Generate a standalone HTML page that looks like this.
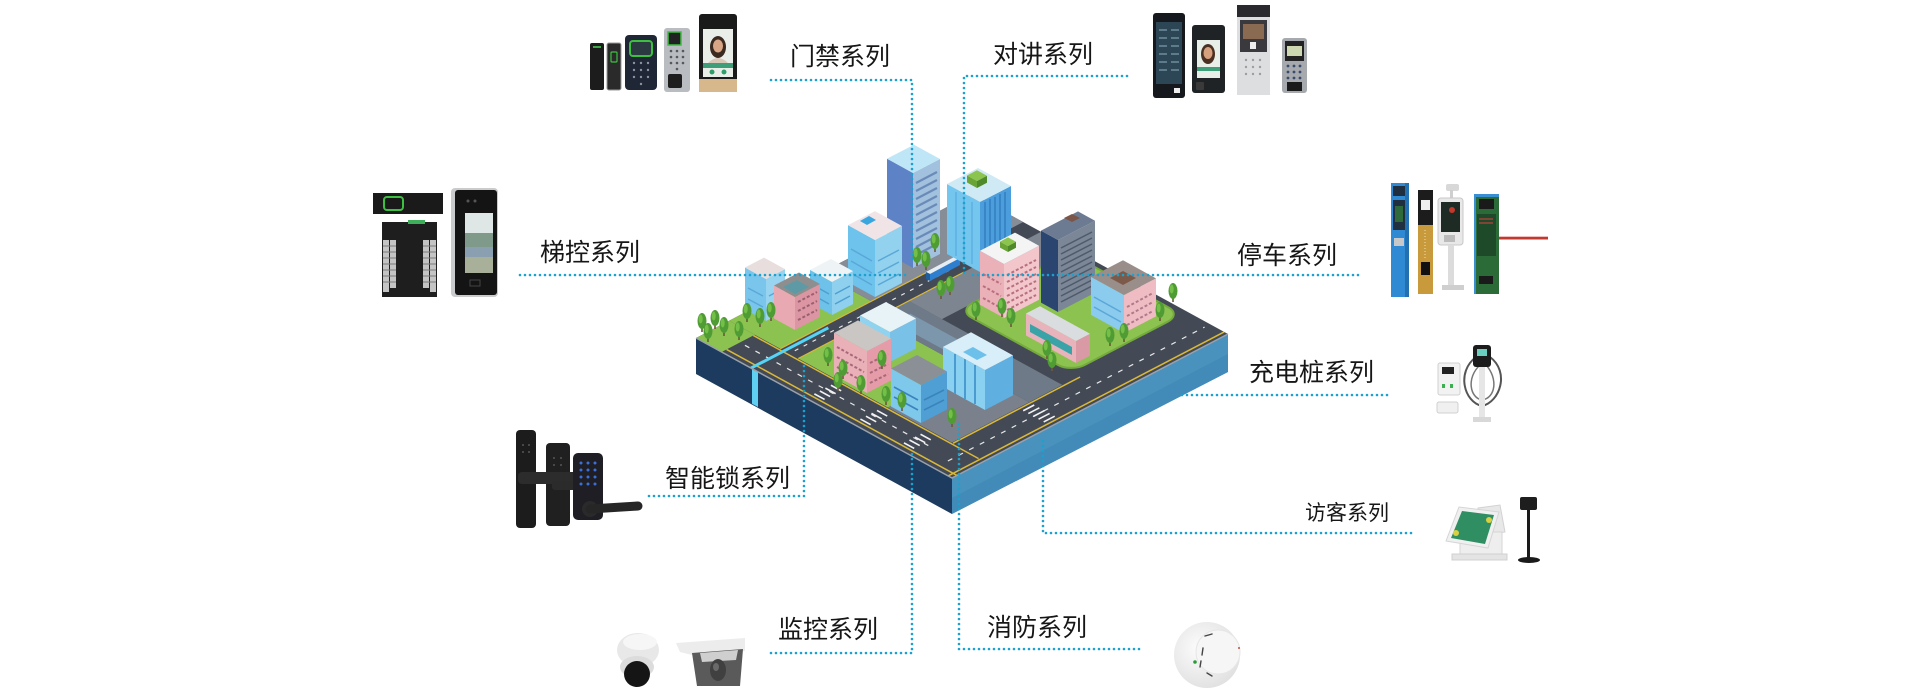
<!DOCTYPE html>
<html><head><meta charset="utf-8"><style>
html,body{margin:0;padding:0;background:#fff;overflow:hidden}
svg{display:block}
.lb{font-family:"Liberation Sans","Noto Sans CJK SC",sans-serif;font-size:25px;fill:#161616}
.dl{fill:none;stroke:#1aa2cf;stroke-width:2.6;stroke-linecap:round;stroke-dasharray:0 5}
</style></head><body>
<svg width="1920" height="698" viewBox="0 0 1920 698" xmlns="http://www.w3.org/2000/svg">
<defs>
<symbol id="t" overflow="visible"><rect x="-0.8" y="4" width="1.6" height="5" fill="#6b5a3a"/><ellipse cx="0" cy="-2" rx="4.5" ry="8" fill="#4f9c34"/><ellipse cx="-1.3" cy="-4" rx="2" ry="4.5" fill="#74bf48"/></symbol>
<radialGradient id="sm" cx="0.4" cy="0.4" r="0.7"><stop offset="0" stop-color="#fdfdfd"/><stop offset="1" stop-color="#dedede"/></radialGradient>
</defs>
<rect width="1920" height="698" fill="#fff"/>

<!-- ===== CITY PLATFORM ===== -->
<polygon points="696,338 952,478 952,514 696,374" fill="#1d3b5e"/>
<polygon points="952,478 1228,334 1228,372 952,514" fill="#4892bd"/>
<polygon points="952,498 1228,354 1228,372 952,514" fill="#3f86b2" opacity="0.6"/>
<polygon points="752,368.5 758,371.8 758,407 752,403.7" fill="#5fd0f2"/>
<polygon points="696,338 972,194 1228,334 952,478" fill="#444a55"/>

<g transform="matrix(256,140,276,-144,696,338)">
 <rect x="0" y="0.12" width="0.2" height="0.33" fill="#8cc24f"/>
 <rect x="0" y="0" width="0.1" height="0.12" fill="#8cc24f"/>
 <rect x="0" y="0.45" width="0.2" height="0.55" fill="#868d97"/>
 <rect x="0.27" y="0.12" width="0.35" height="0.28" fill="#8cc24f"/>
 <rect x="0.62" y="0.12" width="0.25" height="0.28" fill="#7a818c"/>
 <rect x="0.27" y="0.40" width="0.60" height="0.12" fill="#6f7a88"/>
 <rect x="0.32" y="0.42" width="0.40" height="0.06" fill="#86aac4" opacity="0.6"/>
 <rect x="0.27" y="0.52" width="0.13" height="0.48" fill="#7d8591"/>
 <rect x="0.40" y="0.58" width="0.44" height="0.40" rx="0.05" fill="#8cc24f" stroke="#74ab3c" stroke-width="2" vector-effect="non-scaling-stroke"/>
 <line x1="0.1" y1="0.018" x2="1" y2="0.018" stroke="#d9b83a" stroke-width="1.5" vector-effect="non-scaling-stroke"/>
 <line x1="0.1" y1="0.115" x2="0.98" y2="0.115" stroke="#d9b83a" stroke-width="1.5" vector-effect="non-scaling-stroke"/>
 <line x1="0.12" y1="0.066" x2="0.86" y2="0.066" stroke="#e8e8e8" stroke-width="1.2" stroke-dasharray="5 7" vector-effect="non-scaling-stroke"/>
 <line x1="0.875" y1="0.12" x2="0.875" y2="0.58" stroke="#d9b83a" stroke-width="1.5" vector-effect="non-scaling-stroke"/>
 <line x1="0.985" y1="0" x2="0.985" y2="1" stroke="#d9b83a" stroke-width="1.5" vector-effect="non-scaling-stroke"/>
 <line x1="0.93" y1="0.05" x2="0.93" y2="0.98" stroke="#e8e8e8" stroke-width="1.2" stroke-dasharray="5 7" vector-effect="non-scaling-stroke"/>
 <line x1="0.235" y1="0.14" x2="0.235" y2="0.7" stroke="#e8e8e8" stroke-width="1.2" stroke-dasharray="4 6" vector-effect="non-scaling-stroke"/>
 <line x1="0.2" y1="0.12" x2="0.2" y2="0.72" stroke="#d9b83a" stroke-width="1.2" vector-effect="non-scaling-stroke"/>
 <line x1="0.27" y1="0.12" x2="0.27" y2="0.72" stroke="#d9b83a" stroke-width="1.2" vector-effect="non-scaling-stroke"/>
 <line x1="0.215" y1="0" x2="0.215" y2="0.28" stroke="#55d4f5" stroke-width="3" vector-effect="non-scaling-stroke"/>
 <polyline points="0,0 1,0 1,1" fill="none" stroke="#9aa1aa" stroke-width="1.5" vector-effect="non-scaling-stroke"/>
 <g stroke="#f2f2f2" stroke-width="1.6">
  <line x1="0.43" y1="0.03" x2="0.47" y2="0.03" vector-effect="non-scaling-stroke"/><line x1="0.43" y1="0.05" x2="0.47" y2="0.05" vector-effect="non-scaling-stroke"/><line x1="0.43" y1="0.07" x2="0.47" y2="0.07" vector-effect="non-scaling-stroke"/><line x1="0.43" y1="0.09" x2="0.47" y2="0.09" vector-effect="non-scaling-stroke"/>
  <line x1="0.61" y1="0.03" x2="0.65" y2="0.03" vector-effect="non-scaling-stroke"/><line x1="0.61" y1="0.05" x2="0.65" y2="0.05" vector-effect="non-scaling-stroke"/><line x1="0.61" y1="0.07" x2="0.65" y2="0.07" vector-effect="non-scaling-stroke"/><line x1="0.61" y1="0.09" x2="0.65" y2="0.09" vector-effect="non-scaling-stroke"/>
  <line x1="0.78" y1="0.03" x2="0.82" y2="0.03" vector-effect="non-scaling-stroke"/><line x1="0.78" y1="0.05" x2="0.82" y2="0.05" vector-effect="non-scaling-stroke"/><line x1="0.78" y1="0.07" x2="0.82" y2="0.07" vector-effect="non-scaling-stroke"/><line x1="0.78" y1="0.09" x2="0.82" y2="0.09" vector-effect="non-scaling-stroke"/>
  <line x1="0.89" y1="0.36" x2="0.89" y2="0.40" vector-effect="non-scaling-stroke"/><line x1="0.91" y1="0.36" x2="0.91" y2="0.40" vector-effect="non-scaling-stroke"/><line x1="0.93" y1="0.36" x2="0.93" y2="0.40" vector-effect="non-scaling-stroke"/><line x1="0.95" y1="0.36" x2="0.95" y2="0.40" vector-effect="non-scaling-stroke"/><line x1="0.97" y1="0.36" x2="0.97" y2="0.40" vector-effect="non-scaling-stroke"/>
 </g>
</g>

<!-- bus -->
<polygon points="930,281 960,265 960,258 930,274" fill="#2f7fd0"/>
<polygon points="930,274 960,258 956,256 926,272" fill="#e6eef5"/>
<polygon points="926,272 930,274 930,281 926,279" fill="#1f5f9f"/>

<!-- ===== BUILDINGS ===== -->
<g transform="translate(913,268)">
 <polygon points="0,0 -26,-14.3 -26,-109.3 0,-95" fill="#5d83c6"/>
 <polygon points="0,0 27,-14 27,-109 0,-95" fill="#a2c1de"/>
 <g stroke="#6a8bb8" stroke-width="2.2"><line x1="3" y1="-13" x2="24" y2="-24"/><line x1="3" y1="-21" x2="24" y2="-32"/><line x1="3" y1="-29" x2="24" y2="-40"/><line x1="3" y1="-37" x2="24" y2="-48"/><line x1="3" y1="-45" x2="24" y2="-56"/><line x1="3" y1="-53" x2="24" y2="-64"/><line x1="3" y1="-61" x2="24" y2="-72"/><line x1="3" y1="-69" x2="24" y2="-80"/><line x1="3" y1="-77" x2="24" y2="-88"/><line x1="3" y1="-85" x2="24" y2="-96"/></g>
 <polygon points="0,-95 -26,-109.3 1,-123.3 27,-109" fill="#bfe6f7"/>
</g>
<g transform="translate(980,272)">
 <polygon points="0,0 -33,-18 -33,-88 0,-70" fill="#74c6ee"/>
 <polygon points="0,0 31,-16 31,-86 0,-70" fill="#4b9ddb"/>
 <g stroke="#3580c0" stroke-width="1.6"><line x1="5" y1="-6" x2="5" y2="-70"/><line x1="10" y1="-8" x2="10" y2="-73"/><line x1="15" y1="-11" x2="15" y2="-75"/><line x1="20" y1="-13" x2="20" y2="-78"/><line x1="25" y1="-16" x2="25" y2="-80"/></g>
 <g stroke="#5aaee0" stroke-width="1.4"><line x1="-8" y1="-8" x2="-8" y2="-70"/><line x1="-16" y1="-12" x2="-16" y2="-75"/><line x1="-24" y1="-16" x2="-24" y2="-80"/></g>
 <polygon points="0,-70 -33,-88 -2,-104 31,-86" fill="#cfeaf5"/>
 <g transform="translate(-3,-84)"><polygon points="0,0 -10,-5.5 -10,-12.5 0,-7" fill="#6aa336"/><polygon points="0,0 10,-5.2 10,-12.2 0,-7" fill="#4e8a2a"/><polygon points="0,-7 -10,-12.5 0,-17.7 10,-12.2" fill="#8bc44f"/></g>
</g>
<g transform="translate(875,297)">
 <polygon points="0,0 -27,-14.85 -27,-71.85 0,-57" fill="#6ec3ec"/>
 <polygon points="0,0 27,-14 27,-71 0,-57" fill="#93d2ef"/>
 <g stroke="#5aa8d8" stroke-width="1.5"><line x1="-24" y1="-24" x2="-3" y2="-12"/><line x1="-24" y1="-36" x2="-3" y2="-24"/><line x1="-24" y1="-48" x2="-3" y2="-36"/><line x1="3" y1="-12" x2="24" y2="-23"/><line x1="3" y1="-24" x2="24" y2="-35"/><line x1="3" y1="-36" x2="24" y2="-47"/></g>
 <polygon points="0,-57 -27,-71.85 0,-85.9 27,-71" fill="#f0e4e6"/>
 <polygon points="-8,-72 -15,-76 -6,-81 1,-77" fill="#3aa6e0"/>
</g>
<g transform="translate(1058,312)">
 <polygon points="0,0 -17,-9.35 -17,-81.35 0,-72" fill="#2a4670"/>
 <polygon points="0,0 37,-19.24 37,-91.24 0,-72" fill="#7b8797"/>
 <g stroke="#4e5a6a" stroke-width="1.5"><line x1="3" y1="-10" x2="34" y2="-26"/><line x1="3" y1="-16" x2="34" y2="-32"/><line x1="3" y1="-22" x2="34" y2="-38"/><line x1="3" y1="-28" x2="34" y2="-44"/><line x1="3" y1="-34" x2="34" y2="-50"/><line x1="3" y1="-40" x2="34" y2="-56"/><line x1="3" y1="-46" x2="34" y2="-62"/><line x1="3" y1="-52" x2="34" y2="-68"/><line x1="3" y1="-58" x2="34" y2="-74"/><line x1="3" y1="-64" x2="34" y2="-80"/></g>
 <polygon points="0,-72 -17,-81.35 20,-100.6 37,-91.24" fill="#6c7b92"/>
 <polygon points="14,-90 6,-94 14,-98 22,-94" fill="#7a5548"/>
</g>
<g transform="translate(832,315)">
 <polygon points="0,0 -22,-12.1 -22,-45.1 0,-33" fill="#6ec1e9"/>
 <polygon points="0,0 21,-10.9 21,-43.9 0,-33" fill="#8fd0ef"/>
 <g stroke="#4f9fcf" stroke-width="1.4"><line x1="-19" y1="-20" x2="-3" y2="-11"/><line x1="-19" y1="-30" x2="-3" y2="-21"/><line x1="3" y1="-11" x2="18" y2="-19"/><line x1="3" y1="-21" x2="18" y2="-29"/></g>
 <polygon points="0,-33 -22,-45.1 -1,-56 21,-43.9" fill="#eef4f6"/>
</g>
<g transform="translate(1004,318)">
 <polygon points="0,0 -24,-13.2 -24,-67.2 0,-54" fill="#eab1b9"/>
 <polygon points="0,0 35,-18.2 35,-72.2 0,-54" fill="#f2c6cb"/>
 <g stroke="#b8707e" stroke-width="2" stroke-dasharray="3 2"><line x1="3" y1="-8" x2="32" y2="-23"/><line x1="3" y1="-15" x2="32" y2="-30"/><line x1="3" y1="-22" x2="32" y2="-37"/><line x1="3" y1="-29" x2="32" y2="-44"/><line x1="3" y1="-36" x2="32" y2="-51"/><line x1="3" y1="-43" x2="32" y2="-58"/><line x1="-21" y1="-20" x2="-3" y2="-10"/><line x1="-21" y1="-32" x2="-3" y2="-22"/><line x1="-21" y1="-44" x2="-3" y2="-34"/></g>
 <polygon points="0,-54 -24,-67.2 11,-85.4 35,-72.2" fill="#f4f4f4"/>
 <g transform="translate(4,-66)"><polygon points="0,0 -8,-4.4 -8,-10.4 0,-6" fill="#6aa336"/><polygon points="0,0 8,-4.2 8,-10.2 0,-6" fill="#4e8a2a"/><polygon points="0,-6 -8,-10.4 0,-14.6 8,-10.2" fill="#8bc44f"/></g>
</g>
<g transform="translate(766,321)">
 <polygon points="0,0 -21,-11.55 -21,-53.55 0,-42" fill="#79c5ec"/>
 <polygon points="0,0 19,-9.9 19,-51.9 0,-42" fill="#98d3f0"/>
 <g stroke="#5aa8d8" stroke-width="1.4"><line x1="-18" y1="-22" x2="-3" y2="-14"/><line x1="-18" y1="-33" x2="-3" y2="-25"/><line x1="3" y1="-14" x2="16" y2="-21"/><line x1="3" y1="-25" x2="16" y2="-32"/></g>
 <polygon points="0,-42 -21,-53.55 -2,-63.4 19,-51.9" fill="#e9dede"/>
</g>
<g transform="translate(795,330)">
 <polygon points="0,0 -21,-11.55 -21,-44.55 0,-33" fill="#e8a9b2"/>
 <polygon points="0,0 25,-13 25,-46 0,-33" fill="#dc95a2"/>
 <g stroke="#9a6070" stroke-width="2" stroke-dasharray="3 2"><line x1="3" y1="-10" x2="22" y2="-20"/><line x1="3" y1="-19" x2="22" y2="-29"/><line x1="3" y1="-28" x2="22" y2="-38"/></g>
 <polygon points="0,-33 -21,-44.55 4,-57.55 25,-46" fill="#8f8e8e"/>
 <polygon points="0,-36 -12,-43 2,-50 14,-43" fill="#5d9aa6"/>
</g>
<g transform="translate(1124,333)">
 <polygon points="0,0 -33,-18.15 -33,-56.15 0,-38" fill="#8acbee"/>
 <polygon points="0,0 32,-16.6 32,-54.6 0,-38" fill="#efbcc4"/>
 <g stroke="#b07a88" stroke-width="2" stroke-dasharray="3 2"><line x1="3" y1="-8" x2="29" y2="-22"/><line x1="3" y1="-17" x2="29" y2="-31"/><line x1="3" y1="-26" x2="29" y2="-40"/></g>
 <g stroke="#5aa8d8" stroke-width="1.5"><line x1="-30" y1="-26" x2="-3" y2="-11"/><line x1="-30" y1="-36" x2="-3" y2="-21"/></g>
 <polygon points="0,-38 -33,-56.15 -1,-72.8 32,-54.6" fill="#9a8e8a"/>
 <polygon points="-1,-48 -14,-55 -1,-62 12,-55" fill="#7b5a4a"/>
</g>
<g transform="translate(890,362)">
 <polygon points="0,0 -30,-16.5 -30,-46.5 0,-30" fill="#8fd3f0"/>
 <polygon points="0,0 26,-13.5 26,-43.5 0,-30" fill="#79c1e6"/>
 <polygon points="0,-30 -30,-46.5 -4,-60 26,-43.5" fill="#e8f3f7"/>
</g>
<g transform="translate(1076,363)">
 <polygon points="0,0 -50,-27.5 -50,-49.5 0,-22" fill="#e9b3bb"/>
 <polygon points="-46,-31 -4,-8 -4,-16 -46,-39" fill="#3aa3a8"/>
 <polygon points="0,0 14,-7.3 14,-29.3 0,-22" fill="#d99aa5"/>
 <polygon points="0,-22 -50,-49.5 -36,-56.8 14,-29.3" fill="#d9dde0"/>
</g>
<g transform="translate(867,393)">
 <polygon points="0,0 -33,-18.15 -33,-60.15 0,-42" fill="#eab0b8"/>
 <polygon points="0,0 24,-12.5 24,-54.5 0,-42" fill="#e59ca8"/>
 <g stroke="#a86878" stroke-width="2" stroke-dasharray="3 2"><line x1="-30" y1="-26" x2="-3" y2="-11"/><line x1="-30" y1="-36" x2="-3" y2="-21"/><line x1="-30" y1="-46" x2="-3" y2="-31"/><line x1="3" y1="-10" x2="21" y2="-19"/><line x1="3" y1="-20" x2="21" y2="-29"/><line x1="3" y1="-30" x2="21" y2="-39"/></g>
 <polygon points="0,-42 -33,-60.15 -9,-72.6 24,-54.5" fill="#c9c6c4"/>
</g>
<g transform="translate(985,410)">
 <polygon points="0,0 -42,-23.1 -42,-63.1 0,-40" fill="#8ad0f0"/>
 <polygon points="0,0 28,-14.6 28,-54.6 0,-40" fill="#5fb0e0"/>
 <g stroke="#4a9bd0" stroke-width="2"><line x1="-10" y1="-6" x2="-10" y2="-45"/><line x1="-20" y1="-11" x2="-20" y2="-51"/><line x1="-30" y1="-16" x2="-30" y2="-56"/></g>
 <polygon points="0,-40 -42,-63.1 -14,-77.7 28,-54.6" fill="#d8eef8"/>
 <polygon points="-8,-50 -22,-58 -12,-63 2,-55" fill="#6cc0ea"/>
</g>
<g transform="translate(921,423)">
 <polygon points="0,0 -30,-16.5 -30,-54.5 0,-38" fill="#7ec8ec"/>
 <polygon points="0,0 26,-13.5 26,-51.5 0,-38" fill="#4f9fd4"/>
 <g stroke="#3a84bc" stroke-width="1.6"><line x1="-27" y1="-26" x2="-3" y2="-13"/><line x1="-27" y1="-36" x2="-3" y2="-23"/><line x1="3" y1="-13" x2="23" y2="-23"/><line x1="3" y1="-23" x2="23" y2="-33"/></g>
 <polygon points="0,-38 -30,-54.5 -4,-68 26,-51.5" fill="#8b9096"/>
</g>

<!-- trees -->
<g>
<use href="#t" x="702" y="323"/><use href="#t" x="715" y="320"/><use href="#t" x="724" y="327"/><use href="#t" x="739" y="331"/><use href="#t" x="747" y="313"/><use href="#t" x="760" y="318"/><use href="#t" x="771" y="312"/><use href="#t" x="708" y="333"/>
<use href="#t" x="828" y="357"/><use href="#t" x="843" y="370"/><use href="#t" x="861" y="385"/><use href="#t" x="838" y="382"/><use href="#t" x="886" y="396"/>
<use href="#t" x="917" y="257"/><use href="#t" x="926" y="261"/><use href="#t" x="935" y="243"/><use href="#t" x="941" y="290"/><use href="#t" x="950" y="286"/>
<use href="#t" x="976" y="311"/><use href="#t" x="1002" y="308"/><use href="#t" x="1011" y="318"/><use href="#t" x="1047" y="350"/><use href="#t" x="1052" y="362"/><use href="#t" x="1110" y="337"/><use href="#t" x="1124" y="333"/><use href="#t" x="1173" y="293"/><use href="#t" x="1160" y="312"/>
<use href="#t" x="902" y="402"/><use href="#t" x="952" y="418"/><use href="#t" x="882" y="360"/>
</g>

<!-- ===== DOTTED CONNECTORS ===== -->
<path class="dl" d="M771,80 H912 V262"/>
<path class="dl" d="M1127,76 H964 V274"/>
<path class="dl" d="M520,275 H906"/>
<path class="dl" d="M973,275 H1359"/>
<path class="dl" d="M1182,395 H1390"/>
<path class="dl" d="M649,496 H804 V363"/>
<path class="dl" d="M1411,533 H1043 V437"/>
<path class="dl" d="M771,653 H912 V453"/>
<path class="dl" d="M1139,649 H959 V420"/>

<!-- ===== DEVICES ===== -->
<!-- 门禁 -->
<rect x="590" y="43" width="14" height="47" rx="2" fill="#1c1c1c"/>
<rect x="593" y="46" width="8" height="2" fill="#3aa845"/>
<rect x="607" y="43" width="14" height="47" rx="2" fill="#2a2a2a" stroke="#9a9a9a" stroke-width="1"/>
<rect x="611" y="52" width="6" height="10" rx="1" fill="none" stroke="#3cc040" stroke-width="1.2"/>
<rect x="625" y="35" width="32" height="55" rx="4" fill="#1f2636"/>
<rect x="630" y="41" width="22" height="15" rx="3" fill="#2b3a40" stroke="#3cc040" stroke-width="2"/>
<g fill="#8a93a0"><circle cx="634" cy="63" r="1.2"/><circle cx="641" cy="63" r="1.2"/><circle cx="648" cy="63" r="1.2"/><circle cx="634" cy="70" r="1.2"/><circle cx="641" cy="70" r="1.2"/><circle cx="648" cy="70" r="1.2"/><circle cx="634" cy="77" r="1.2"/><circle cx="641" cy="77" r="1.2"/><circle cx="648" cy="77" r="1.2"/><circle cx="641" cy="84" r="1.2"/></g>
<rect x="664" y="28" width="26" height="64" rx="3" fill="#b9bcc0"/>
<rect x="668" y="32" width="13" height="13" fill="#222" stroke="#3cc040" stroke-width="1.5"/>
<g fill="#55595e"><circle cx="671" cy="51" r="1.3"/><circle cx="677" cy="51" r="1.3"/><circle cx="683" cy="51" r="1.3"/><circle cx="671" cy="57" r="1.3"/><circle cx="677" cy="57" r="1.3"/><circle cx="683" cy="57" r="1.3"/><circle cx="671" cy="63" r="1.3"/><circle cx="677" cy="63" r="1.3"/><circle cx="683" cy="63" r="1.3"/><circle cx="677" cy="69" r="1.3"/></g>
<rect x="668" y="74" width="14" height="14" rx="2" fill="#1e1e1e"/>
<rect x="699" y="14" width="38" height="78" rx="3" fill="#1a1a1a"/>
<rect x="699" y="79" width="38" height="13" fill="#d6b88c"/>
<rect x="703" y="29" width="30" height="48" fill="#e9efe8"/>
<ellipse cx="718" cy="47" rx="8" ry="11" fill="#3a2a20"/>
<ellipse cx="718" cy="46" rx="5" ry="6.5" fill="#d9a786"/>
<path d="M708,63 Q718,53 728,63 Z" fill="#d8c8b8"/>
<rect x="703" y="63" width="30" height="5" fill="#3f9e7a"/>
<circle cx="712" cy="72" r="2.5" fill="#2f9e6a"/><circle cx="724" cy="72" r="2.5" fill="#2f9e6a"/>

<!-- 对讲 -->
<rect x="1153" y="13" width="32" height="85" rx="3" fill="#15181c"/>
<rect x="1156" y="22" width="26" height="62" fill="#2d4656"/>
<g stroke="#8fb0c0" stroke-width="1"><line x1="1159" y1="30" x2="1167" y2="30"/><line x1="1171" y1="30" x2="1179" y2="30"/><line x1="1159" y1="38" x2="1167" y2="38"/><line x1="1171" y1="38" x2="1179" y2="38"/><line x1="1159" y1="46" x2="1167" y2="46"/><line x1="1171" y1="46" x2="1179" y2="46"/><line x1="1159" y1="54" x2="1167" y2="54"/><line x1="1171" y1="54" x2="1179" y2="54"/><line x1="1159" y1="62" x2="1167" y2="62"/><line x1="1171" y1="62" x2="1179" y2="62"/><line x1="1159" y1="70" x2="1167" y2="70"/><line x1="1171" y1="70" x2="1179" y2="70"/></g>
<rect x="1174" y="88" width="6" height="5" fill="#eee"/>
<rect x="1192" y="25" width="33" height="68" rx="3" fill="#1f2326"/>
<rect x="1197" y="40" width="23" height="38" fill="#e8efe8"/>
<ellipse cx="1208" cy="54" rx="7" ry="10" fill="#4a3022"/>
<ellipse cx="1208" cy="53" rx="4.5" ry="6" fill="#d6a07e"/>
<rect x="1197" y="67" width="23" height="4" fill="#3f9e7a"/>
<rect x="1196" y="82" width="8" height="8" rx="1" fill="#3a3a3a"/>
<rect x="1237" y="5" width="33" height="90" fill="#dcdee0"/>
<rect x="1237" y="5" width="33" height="12" fill="#2a2a2e"/>
<rect x="1240" y="20" width="27" height="32" fill="#3a3a3e"/>
<rect x="1243" y="24" width="21" height="15" fill="#8a6a50"/>
<rect x="1250" y="42" width="6" height="7" fill="#eee"/>
<g fill="#9a9ea2"><circle cx="1246" cy="60" r="1.2"/><circle cx="1253" cy="60" r="1.2"/><circle cx="1260" cy="60" r="1.2"/><circle cx="1246" cy="67" r="1.2"/><circle cx="1253" cy="67" r="1.2"/><circle cx="1260" cy="67" r="1.2"/><circle cx="1246" cy="74" r="1.2"/><circle cx="1253" cy="74" r="1.2"/><circle cx="1260" cy="74" r="1.2"/></g>
<rect x="1282" y="38" width="25" height="55" rx="3" fill="#a6aaae"/>
<rect x="1285" y="41" width="19" height="20" fill="#222"/>
<rect x="1287" y="46" width="15" height="10" fill="#cdd8b0"/>
<g fill="#3a4a6a"><circle cx="1288" cy="66" r="1.4"/><circle cx="1294" cy="66" r="1.4"/><circle cx="1300" cy="66" r="1.4"/><circle cx="1288" cy="72" r="1.4"/><circle cx="1294" cy="72" r="1.4"/><circle cx="1300" cy="72" r="1.4"/><circle cx="1288" cy="78" r="1.4"/><circle cx="1294" cy="78" r="1.4"/><circle cx="1300" cy="78" r="1.4"/></g>
<rect x="1287" y="82" width="15" height="9" fill="#1a1a1a"/>

<!-- 梯控 -->
<rect x="373" y="193" width="70" height="21" fill="#1a1a1a"/>
<rect x="384" y="197" width="19" height="13" rx="3" fill="none" stroke="#3cc040" stroke-width="2"/>
<rect x="382" y="222" width="55" height="75" fill="#1e1e1e"/>
<rect x="408" y="220" width="17" height="4" fill="#3fae5a"/>
<g fill="#c4c4c4"><rect x="383" y="240" width="6" height="52"/><rect x="390" y="240" width="6" height="48"/><rect x="423" y="240" width="6" height="48"/><rect x="430" y="240" width="6" height="52"/></g>
<g stroke="#7a7a7a" stroke-width="1"><line x1="383" y1="246" x2="396" y2="246"/><line x1="383" y1="252" x2="396" y2="252"/><line x1="383" y1="258" x2="396" y2="258"/><line x1="383" y1="264" x2="396" y2="264"/><line x1="383" y1="270" x2="396" y2="270"/><line x1="383" y1="276" x2="396" y2="276"/><line x1="383" y1="282" x2="396" y2="282"/><line x1="423" y1="246" x2="436" y2="246"/><line x1="423" y1="252" x2="436" y2="252"/><line x1="423" y1="258" x2="436" y2="258"/><line x1="423" y1="264" x2="436" y2="264"/><line x1="423" y1="270" x2="436" y2="270"/><line x1="423" y1="276" x2="436" y2="276"/><line x1="423" y1="282" x2="436" y2="282"/></g>
<rect x="451" y="188" width="47" height="109" rx="4" fill="#c9cbcd"/>
<rect x="455" y="190" width="42" height="105" rx="3" fill="#141414"/>
<rect x="465" y="213" width="28" height="60" fill="#b9c3b5"/>
<rect x="465" y="213" width="28" height="20" fill="#dfe6e6"/>
<rect x="465" y="233" width="28" height="14" fill="#7f9a8a"/>
<rect x="465" y="247" width="28" height="10" fill="#8aa0b0"/>
<rect x="465" y="257" width="28" height="16" fill="#a8b09a"/>
<circle cx="468" cy="201" r="1.5" fill="#555"/><circle cx="475" cy="201" r="1.5" fill="#555"/>
<rect x="470" y="280" width="10" height="6" fill="none" stroke="#444" stroke-width="1"/>

<!-- 停车 -->
<rect x="1391" y="183" width="18" height="114" fill="#2f8ad3"/>
<rect x="1405" y="183" width="4" height="114" fill="#2270b0"/>
<rect x="1393" y="186" width="12" height="10" fill="#1f2f40"/>
<rect x="1393" y="200" width="12" height="30" fill="#203040"/>
<rect x="1395" y="206" width="8" height="16" fill="#2f6a3a"/>
<rect x="1394" y="238" width="10" height="8" fill="#c8c8c8"/>
<rect x="1418" y="190" width="15" height="104" fill="#c89a3c"/>
<rect x="1418" y="190" width="15" height="35" fill="#1c1c1c"/>
<rect x="1421" y="200" width="9" height="10" fill="#eee"/>
<rect x="1421" y="262" width="9" height="13" fill="#111"/>
<line x1="1425" y1="230" x2="1425" y2="258" stroke="#f0e0b0" stroke-width="1" stroke-dasharray="1 2"/>
<rect x="1446" y="184" width="13" height="7" rx="2" fill="#d8d8d8"/>
<rect x="1450" y="190" width="3" height="9" fill="#cfcfcf"/>
<rect x="1438" y="198" width="25" height="47" rx="3" fill="#e8e8e8" stroke="#c8c8c8" stroke-width="1"/>
<rect x="1441" y="202" width="19" height="30" fill="#1e2a24"/>
<circle cx="1452" cy="210" r="3" fill="#c0392b"/>
<rect x="1444" y="235" width="11" height="7" fill="#bbb"/>
<rect x="1448" y="245" width="6" height="40" fill="#dcdcdc"/>
<rect x="1442" y="285" width="22" height="5" fill="#cfcfcf"/>
<rect x="1474" y="194" width="25" height="100" fill="#2b6b37"/>
<rect x="1474" y="194" width="25" height="3" fill="#3a8fd0"/>
<rect x="1474" y="194" width="2" height="100" fill="#3a8fd0"/>
<rect x="1479" y="199" width="15" height="10" fill="#1a1a1a"/>
<rect x="1477" y="214" width="19" height="42" fill="#1f4a2a"/>
<g stroke="#c04040" stroke-width="1.2"><line x1="1479" y1="219" x2="1493" y2="219"/><line x1="1479" y1="223" x2="1493" y2="223"/></g>
<rect x="1479" y="276" width="14" height="8" fill="#1a1a1a"/>
<line x1="1499" y1="238" x2="1548" y2="238" stroke="#c03a30" stroke-width="3"/>
<line x1="1499" y1="236.5" x2="1548" y2="236.5" stroke="#f0c0c0" stroke-width="1"/>

<!-- 充电桩 -->
<path d="M1476,357 C1456,372 1464,402 1482,406 C1500,402 1510,372 1490,357" fill="none" stroke="#555" stroke-width="2"/>
<path d="M1480,365 C1466,378 1470,398 1482,400 C1496,398 1498,378 1486,365" fill="none" stroke="#777" stroke-width="1.5"/>
<rect x="1479" y="367" width="6" height="53" fill="#e6e6e6"/>
<rect x="1473" y="417" width="18" height="5" fill="#d8d8d8"/>
<rect x="1473" y="345" width="18" height="22" rx="3" fill="#1c1c1c"/>
<rect x="1477" y="349" width="10" height="7" fill="#6ad0c0"/>
<rect x="1438" y="363" width="22" height="32" rx="2" fill="#f2f2f2" stroke="#d0d0d0"/>
<rect x="1442" y="367" width="12" height="7" fill="#222"/>
<rect x="1442" y="384" width="3" height="4" fill="#3cb050"/><rect x="1450" y="384" width="3" height="4" fill="#3cb050"/>
<rect x="1437" y="402" width="21" height="11" rx="2" fill="#f0f0f0" stroke="#d0d0d0"/>

<!-- 访客 -->
<polygon points="1478,508 1500,505 1505,532 1480,536" fill="#e8e8e8" stroke="#d2d2d2"/>
<rect x="1460" y="532" width="42" height="22" fill="#eeeeee" stroke="#d5d5d5"/>
<rect x="1452" y="554" width="55" height="6" fill="#e4e4e4" stroke="#d0d0d0"/>
<polygon points="1446,541 1459,507 1499,512 1488,548" fill="#f0f0f0" stroke="#d5d5d5"/>
<polygon points="1451,538 1462,511 1494,515 1485,544" fill="#2f8f62"/>
<circle cx="1456" cy="533" r="3" fill="#d8d040"/><circle cx="1489" cy="520" r="3" fill="#d8d040"/>
<rect x="1520" y="497" width="17" height="13" rx="2" fill="#1e1e1e"/>
<rect x="1527" y="510" width="3" height="48" fill="#1a1a1a"/>
<ellipse cx="1529" cy="560" rx="11" ry="3" fill="#1a1a1a"/>

<!-- 智能锁 -->
<rect x="516" y="430" width="20" height="98" rx="4" fill="#1c1c1c"/>
<rect x="546" y="443" width="24" height="83" rx="4" fill="#202020"/>
<rect x="518" y="472" width="59" height="12" rx="4" fill="#2c2c2c"/>
<rect x="552" y="481" width="45" height="9" rx="3" fill="#2b2b2b"/>
<rect x="573" y="453" width="30" height="67" rx="5" fill="#1e1e24"/>
<g fill="#3a6fd8"><circle cx="581" cy="463" r="1.5"/><circle cx="588" cy="463" r="1.5"/><circle cx="595" cy="463" r="1.5"/><circle cx="581" cy="470" r="1.5"/><circle cx="588" cy="470" r="1.5"/><circle cx="595" cy="470" r="1.5"/><circle cx="581" cy="477" r="1.5"/><circle cx="588" cy="477" r="1.5"/><circle cx="595" cy="477" r="1.5"/><circle cx="581" cy="484" r="1.5"/><circle cx="588" cy="484" r="1.5"/><circle cx="595" cy="484" r="1.5"/></g>
<circle cx="590" cy="509" r="8" fill="#2a2a2a"/>
<path d="M590,509 L638,506" stroke="#262626" stroke-width="9" stroke-linecap="round"/>
<g fill="#555"><circle cx="523" cy="445" r="1"/><circle cx="529" cy="445" r="1"/><circle cx="523" cy="452" r="1"/><circle cx="529" cy="452" r="1"/><circle cx="554" cy="458" r="1"/><circle cx="561" cy="458" r="1"/><circle cx="554" cy="465" r="1"/><circle cx="561" cy="465" r="1"/></g>

<!-- 监控 -->
<ellipse cx="638" cy="650" rx="21" ry="17" fill="#e8e8e8"/>
<ellipse cx="640" cy="642" rx="17" ry="8" fill="#f6f6f6"/>
<ellipse cx="637" cy="667" rx="17" ry="11" fill="#dcdcdc"/>
<ellipse cx="637" cy="674" rx="13" ry="13" fill="#151515"/>
<polygon points="676,643 745,638 745,651 700,657 680,652" fill="#ececec"/>
<polygon points="692,653 743,649 740,686 697,686" fill="#5a5a5a"/>
<polygon points="700,653 738,650 736,660 702,662" fill="#cfcfcf"/>
<ellipse cx="718" cy="670" rx="8" ry="11" fill="#404040"/>
<ellipse cx="716" cy="667" rx="3" ry="4" fill="#6a6a6a"/>

<!-- 消防 -->
<circle cx="1207" cy="655" r="33" fill="url(#sm)"/>
<circle cx="1218" cy="652" r="22" fill="#f6f6f6" stroke="#e6e6e6"/>
<g stroke="#444" stroke-width="1.4" stroke-linecap="round"><line x1="1205" y1="636" x2="1212" y2="634"/><line x1="1203" y1="648" x2="1202" y2="655"/><line x1="1201" y1="661" x2="1200" y2="667"/><line x1="1207" y1="673" x2="1212" y2="676"/></g>
<circle cx="1195" cy="662" r="1.8" fill="#2a9a3a"/>
<circle cx="1239" cy="648" r="1" fill="#c05040"/>

<!-- ===== LABELS ===== -->
<text class="lb" x="790" y="65">门禁系列</text>
<text class="lb" x="993" y="63">对讲系列</text>
<text class="lb" x="540" y="261">梯控系列</text>
<text class="lb" x="1237" y="264">停车系列</text>
<text class="lb" x="1249" y="381">充电桩系列</text>
<text class="lb" x="665" y="487">智能锁系列</text>
<text class="lb" x="1305" y="520" style="font-size:21px">访客系列</text>
<text class="lb" x="778" y="638">监控系列</text>
<text class="lb" x="987" y="636">消防系列</text>
</svg>
</body></html>
